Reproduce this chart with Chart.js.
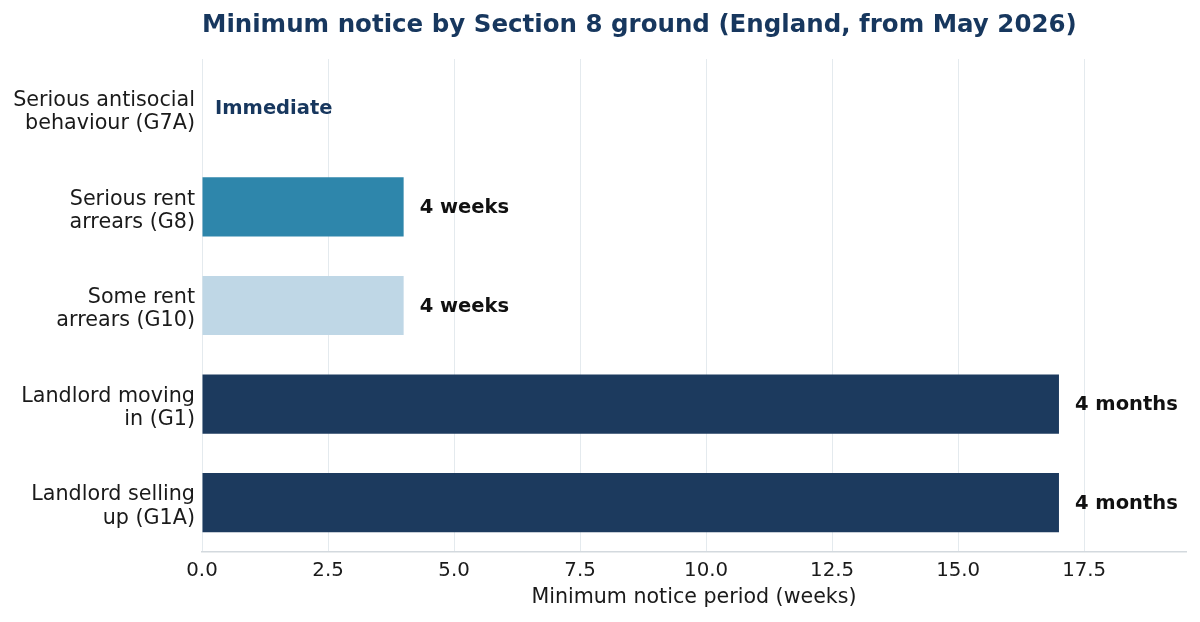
<!DOCTYPE html>
<html>
<head>
<meta charset="utf-8">
<script src="https://cdn.jsdelivr.net/npm/chart.js@4"></script>
<style>
  html, body { margin: 0; padding: 0; background: #fff; }
  #wrap { width: 1200px; height: 622px; }
</style>
</head>
<body>
<div id="wrap"><canvas id="myChart"></canvas></div>
<script>
// data
const categories = [
  ['Serious antisocial', 'behaviour (G7A)'],
  ['Serious rent', 'arrears (G8)'],
  ['Some rent', 'arrears (G10)'],
  ['Landlord moving', 'in (G1)'],
  ['Landlord selling', 'up (G1A)']
];
const noticeWeeks = [0, 4, 4, 17, 17];
const noticeLabels = ['Immediate', '4 weeks', '4 weeks', '4 months', '4 months'];
const xTicks = [0, 2.5, 5, 7.5, 10, 12.5, 15, 17.5];
const barColors = ['#1c3a5e', '#2e86ab', '#bfd7e6', '#1c3a5e', '#1c3a5e'];

const FONT = "'DejaVu Sans', sans-serif";
const NAVY = '#17375e';

// title drawn at the left edge of the plot area
const titlePlugin = {
  id: 'leftTitle',
  afterDraw(chart) {
    const ctx = chart.ctx;
    ctx.save();
    ctx.font = 'bold 24.5px ' + FONT;
    ctx.fillStyle = NAVY;
    ctx.textAlign = 'left';
    ctx.textBaseline = 'middle';
    ctx.fillText('Minimum notice by Section 8 ground (England, from May 2026)', chart.chartArea.left, 26);
    ctx.restore();
  }
};

// value labels next to the bars
const barLabels = {
  id: 'barLabels',
  afterDatasetsDraw(chart) {
    const ctx = chart.ctx;
    const meta = chart.getDatasetMeta(0);
    ctx.save();
    ctx.font = 'bold 19.5px ' + FONT;
    ctx.textAlign = 'left';
    ctx.textBaseline = 'middle';
    meta.data.forEach((bar, i) => {
      if (noticeWeeks[i] === 0) {
        ctx.fillStyle = NAVY;
        ctx.fillText(noticeLabels[i], chart.chartArea.left + 13, bar.y + 1);
      } else {
        ctx.fillStyle = '#111';
        ctx.fillText(noticeLabels[i], bar.x + 16, bar.y + 1);
      }
    });
    ctx.restore();
  }
};

let myChart = document.getElementById('myChart').getContext('2d');

let dataChart = new Chart(myChart, {
  type: 'bar',
  data: {
    labels: categories,
    datasets: [{
      label: 'Minimum notice (weeks)',
      data: noticeWeeks,
      backgroundColor: barColors,
      borderWidth: 0,
      barPercentage: 0.6,
      categoryPercentage: 1.0
    }]
  },
  options: {
    indexAxis: 'y', //horizontal bar
    responsive: true,
    maintainAspectRatio: false,
    animation: false,
    layout: {
      padding: { top: 59, right: 14, left: 0, bottom: 0 }
    },
    plugins: {
      legend: { display: false },
      title: { display: false },
      tooltip: { enabled: false }
    },
    scales: {
      x: {
        min: 0,
        max: 19.52,
        afterBuildTicks(axis) {
          axis.ticks = xTicks.map(v => ({ value: v }));
        },
        afterFit(axis) { axis.height = 70; },
        ticks: {
          font: { family: FONT, size: 19.8 },
          color: '#1a1a1a',
          padding: 7,
          callback: v => Number(v).toFixed(1)
        },
        grid: {
          color: '#e4eaee',
          lineWidth: 1,
          drawTicks: false
        },
        border: { display: true, color: '#d3d9de', width: 1.5 },
        title: {
          display: true,
          text: 'Minimum notice period (weeks)',
          font: { family: FONT, size: 20.6 },
          color: '#1a1a1a',
          padding: { top: 0, bottom: 12 }
        }
      },
      y: {
        afterFit(axis) { axis.width = 202; },
        ticks: {
          font: { family: FONT, size: 20.7, lineHeight: 1.12 },
          color: '#1a1a1a',
          padding: 7,
          labelOffset: 4
        },
        grid: { display: false, drawTicks: false },
        border: { display: false }
      }
    }
  },
  plugins: [titlePlugin, barLabels]
});
</script>
</body>
</html>
